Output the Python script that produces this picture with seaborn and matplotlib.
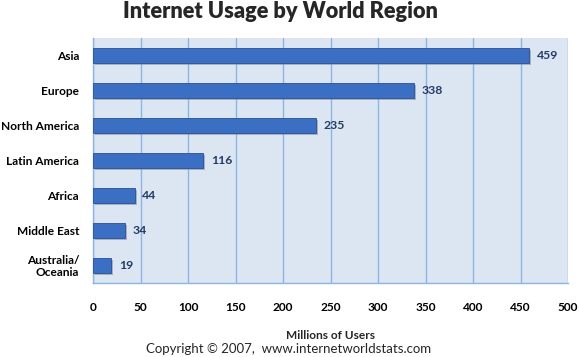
import matplotlib
matplotlib.use("Agg")
import matplotlib.pyplot as plt
import matplotlib.patheffects as pe
import seaborn as sns
import pandas as pd

regions = ["Asia", "Europe", "North America", "Latin America", "Africa", "Middle East", "Australia/\nOceania"]
users = [459, 338, 235, 116, 44, 34, 19]
xticks = [0, 50, 100, 150, 200, 250, 300, 350, 400, 450, 500]

df = pd.DataFrame({"region": regions, "users": users})

sns.set_theme(style="white")
plt.rcParams["font.family"] = ["Lato", "DejaVu Sans"]

fig = plt.figure(figsize=(5.79, 3.57), dpi=100)
ax = fig.add_axes([93/579, 1-283/357, (568-93)/579, (283-38)/357])
ax.set_facecolor("#dce6f2")

sns.barplot(data=df, y="region", x="users", orient="h", color="#3b6fc4",
            width=0.43, ax=ax, saturation=1, zorder=3, edgecolor="#2a508f", linewidth=0.6)
for p in ax.patches:
    p.set_path_effects([pe.SimplePatchShadow(offset=(1.5, -1.5), shadow_rgbFace="#7f8fa6", alpha=0.6), pe.Normal()])

for i, v in enumerate(users):
    ax.text(v + 8, i, str(v), va="center", ha="left", fontsize=8.8,
            fontweight="bold", color="#243c66", zorder=4)

ax.set_xlim(0, 500)
ax.set_ylim(6.5, -0.5)
ax.set_xticks(xticks)
ax.set_xticklabels([str(t) for t in xticks], fontsize=8.6, fontweight="bold", color="black")
ax.grid(axis="x", color="#8eb4e3", linewidth=1, zorder=0)
ax.set_axisbelow(True)

ax.set_yticks(range(len(regions)))
ax.set_yticklabels(regions, fontsize=8.6, fontweight="bold", color="black", linespacing=1.1)
ax.tick_params(axis="y", length=0, pad=10)
ax.set_yticks([i - 0.5 for i in range(len(regions) + 1)], minor=True)
ax.tick_params(axis="y", which="minor", length=5, color="#8eb4e3", direction="out")
ax.tick_params(axis="x", length=6, color="#8eb4e3", direction="out", pad=8)

for s in ["top", "right"]:
    ax.spines[s].set_visible(False)
for s in ["left", "bottom"]:
    ax.spines[s].set_color("#8eb4e3")
    ax.spines[s].set_linewidth(1)

ax.set_ylabel("")
ax.set_xlabel("Millions of Users", fontsize=8.6, fontweight="bold", labelpad=12)

fig.text(280/579, 1-12/357, "Internet Usage by World Region", ha="center", va="center",
         fontsize=15.7, fontweight="heavy")
fig.text(289/579, 1-349/357, "Copyright \u00a9 2007,  www.internetworldstats.com", ha="center",
         va="center", fontsize=9.5)

fig.savefig("out.png", dpi=100, facecolor="white")
